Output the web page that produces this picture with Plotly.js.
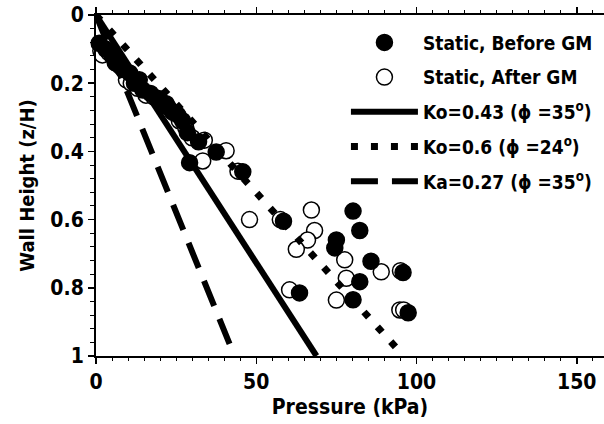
<!DOCTYPE html>
<html>
<head>
<meta charset="utf-8">
<script src="https://cdn.plot.ly/plotly-3.0.1.min.js"></script>
<style>html,body{margin:0;padding:0;background:#fff}#chart{width:604px;height:424px}</style>
</head>
<body>
<div id="chart"></div>
<script>
// Static, Before GM (filled circles)
const beforeX = [1, 3, 5, 6, 7.5, 8.5, 10.5, 12, 13.5, 14.6, 17, 19.5, 21.9, 22.5, 24, 25.5, 27, 28.5, 32, 37.5, 29.2, 45.8, 58.5, 80.2, 82.3, 75, 74.5, 85.8, 95.8, 82.3, 63.5, 80.2, 97.4];
const beforeY = [0.083, 0.1, 0.12, 0.14, 0.15, 0.16, 0.17, 0.2, 0.19, 0.22, 0.23, 0.245, 0.26, 0.27, 0.285, 0.293, 0.31, 0.345, 0.372, 0.402, 0.433, 0.46, 0.605, 0.575, 0.632, 0.66, 0.683, 0.722, 0.755, 0.782, 0.815, 0.835, 0.873];
// Static, After GM (open circles)
const afterX = [-1.5, -0.5, 1.5, 2, 4, 6, 9.5, 11, 13, 15.6, 18, 20.5, 24, 26, 28, 30, 33.8, 40.6, 33.3, 44.3, 47.9, 57.5, 67.2, 68.2, 66, 62.5, 77.6, 89, 95, 78.1, 60.4, 75, 94.8, 96];
const afterY = [0.078, 0.083, 0.105, 0.117, 0.11, 0.13, 0.19, 0.2, 0.215, 0.235, 0.24, 0.255, 0.285, 0.31, 0.33, 0.36, 0.367, 0.398, 0.428, 0.458, 0.60, 0.60, 0.572, 0.632, 0.66, 0.687, 0.718, 0.753, 0.75, 0.772, 0.806, 0.836, 0.865, 0.865];
// Theoretical pressure lines (end points)
const ko43X = [0, 68.8];
const ko60X = [0, 96];
const ka27X = [0, 43.2];
const lineY = [0, 1];
// Legend names
const names = ['Static, Before GM', 'Static, After GM', 'Ko=0.43 (\u03d5 =35<sup>o</sup>)', 'Ko=0.6 (\u03d5 =24<sup>o</sup>)', 'Ka=0.27 (\u03d5 =35<sup>o</sup>)'];

const FONT = 'DejaVu Sans Condensed, DejaVu Sans, sans-serif';

const traces = [
  {x: afterX, y: afterY, name: names[1], mode: 'markers', type: 'scatter', cliponaxis: false, legendgroup: 'b', legendrank: 2,
   marker: {symbol: 'circle', size: 16, color: '#fff', line: {color: '#000', width: 1.5}}},
  {x: beforeX, y: beforeY, name: names[0], mode: 'markers', type: 'scatter', cliponaxis: false, legendgroup: 'a', legendrank: 1,
   marker: {symbol: 'circle', size: 16, color: '#000', line: {color: '#000', width: 1.5}}},
  {x: ko43X, y: lineY, name: names[2], mode: 'lines', type: 'scatter', legendgroup: 'c', legendrank: 3,
   line: {color: '#000', width: 6}},
  {x: ko60X, y: lineY, name: names[3], mode: 'lines', type: 'scatter', legendgroup: 'd', legendrank: 4,
   line: {color: '#000', width: 7, dash: '7px,13px'}},
  {x: ka27X, y: lineY, name: names[4], mode: 'lines', type: 'scatter', legendgroup: 'e', legendrank: 5,
   line: {color: '#000', width: 6, dash: '27px,14px'}}
];

const layout = {
  width: 604, height: 424,
  margin: {l: 96, r: 0, t: 15, b: 68, pad: 0},
  paper_bgcolor: '#fff', plot_bgcolor: '#fff',
  font: {family: FONT, weight: 'bold', color: '#000', size: 20},
  showlegend: true,
  legend: {x: 0.492, y: 0.975, xanchor: 'left', yanchor: 'top', bgcolor: 'rgba(0,0,0,0)',
    font: {family: FONT, weight: 'bold', size: 19, color: '#000'}, itemwidth: 67, tracegroupgap: 7, traceorder: 'grouped'},
  xaxis: {range: [0, 158.5], tick0: 0, dtick: 50, showgrid: false, zeroline: false,
    showline: true, linecolor: '#000', linewidth: 2, mirror: 'ticks',
    ticks: 'outside', ticklen: 6, tickwidth: 1.5, tickcolor: '#000',
    minor: {dtick: 5, ticks: 'outside', ticklen: 3, tickwidth: 1, tickcolor: '#000'},
    tickfont: {family: FONT, weight: 'bold', size: 21},
    title: {text: 'Pressure (kPa)', font: {family: FONT, weight: 'bold', size: 21}, standoff: 6}},
  yaxis: {range: [1, 0], tick0: 0, dtick: 0.2, showgrid: false, zeroline: false,
    showline: true, linecolor: '#000', linewidth: 2,
    ticks: 'outside', ticklen: 6, tickwidth: 1.5, tickcolor: '#000',
    minor: {dtick: 0.04, ticks: 'outside', ticklen: 4, tickwidth: 1, tickcolor: '#000'},
    tickfont: {family: FONT, weight: 'bold', size: 21},
    title: {text: 'Wall Height (z/H)', font: {family: FONT, weight: 'bold', size: 20}, standoff: 10}}
};

Plotly.newPlot('chart', traces, layout, {displayModeBar: false, staticPlot: true});
</script>
</body>
</html>
